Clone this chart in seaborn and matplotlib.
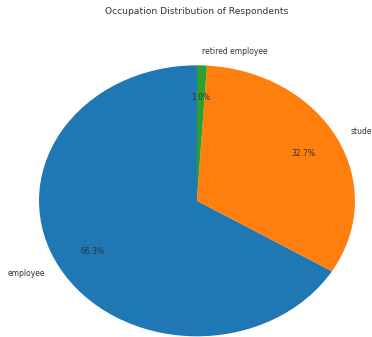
import matplotlib
matplotlib.use("Agg")
import matplotlib.pyplot as plt
import seaborn as sns

# Data
occupations = ["employee", "student", "retired employee"]
shares = [66.3, 32.7, 1.0]

colors = sns.color_palette("tab10", 3)

fig = plt.figure(figsize=(3.72, 3.37), dpi=100)
ax = fig.add_axes([0, 0, 1, 1])

ax.pie(shares, labels=occupations, colors=colors, autopct="%1.1f%%",
       startangle=90, pctdistance=0.76, labeldistance=1.1,
       textprops={"fontsize": 5.5, "color": "#333333"})

# the reference is a stretched crop of a larger figure
ax.set_aspect("auto")
ax.set_xlim(-1.247, 1.108)
ax.set_ylim(-1.005, 1.482)
ax.axis("off")

fig.text(197 / 372, 1 - 12 / 337, "Occupation Distribution of Respondents",
         ha="center", va="center", fontsize=6.6, color="#333333")

fig.savefig("out.png", dpi=100)
